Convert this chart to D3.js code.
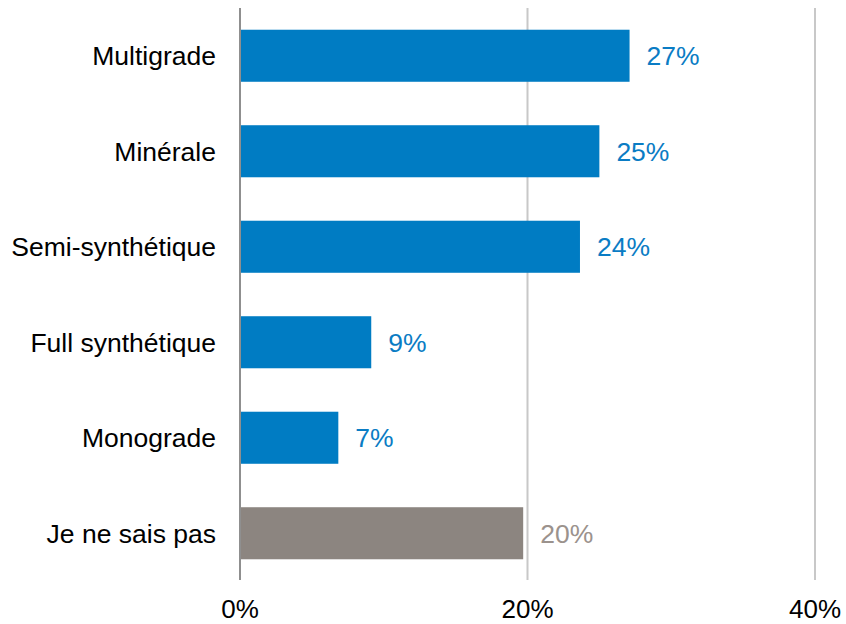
<!DOCTYPE html>
<html><head><meta charset="utf-8">
<script src="https://cdn.jsdelivr.net/npm/d3@7"></script>
<style>body{margin:0;background:#fff;}svg{display:block;font-family:"Liberation Sans",Arial,sans-serif;}</style>
</head><body><svg id="c" width="846" height="624"></svg>
<script>
const categories = ["Multigrade","Minérale","Semi-synthétique","Full synthétique","Monograde","Je ne sais pas"];
const values = [27.1, 25.0, 23.65, 9.13, 6.84, 19.7];
const labels = ["27%","25%","24%","9%","7%","20%"];
const tickValues = [0, 20, 40];
const barColors = ["#007cc3","#007cc3","#007cc3","#007cc3","#007cc3","#8c8580"];
const labelColors = ["#0a7cc4","#0a7cc4","#0a7cc4","#0a7cc4","#0a7cc4","#9b928d"];

const svg = d3.select("#c");
const x = d3.scaleLinear().domain([0,40]).range([240,815]);
const y = d3.scaleBand().domain(categories).range([8,581]).paddingInner(0.455).paddingOuter(0.2275);

svg.selectAll("line.grid").data(tickValues.slice(1)).enter().append("line")
  .attr("x1",d=>x(d)).attr("x2",d=>x(d)).attr("y1",8).attr("y2",580)
  .attr("stroke","#c8c8c8").attr("stroke-width",2);

svg.selectAll("rect.bar").data(values).enter().append("rect")
  .attr("x",x(0)).attr("y",(d,i)=>y(categories[i]))
  .attr("width",d=>x(d)-x(0)).attr("height",y.bandwidth())
  .attr("fill",(d,i)=>barColors[i]);

svg.append("line").attr("x1",x(0)).attr("x2",x(0)).attr("y1",8).attr("y2",580)
  .attr("stroke","#8f8f8f").attr("stroke-width",2);

svg.selectAll("text.val").data(values).enter().append("text")
  .attr("x",d=>x(d)+17).attr("y",(d,i)=>y(categories[i])+y.bandwidth()/2)
  .attr("dy","0.35em").attr("font-size",26.5).attr("fill",(d,i)=>labelColors[i])
  .text((d,i)=>labels[i]);

svg.selectAll("text.cat").data(categories).enter().append("text")
  .attr("x",216).attr("y",d=>y(d)+y.bandwidth()/2).attr("dy","0.35em")
  .attr("text-anchor","end").attr("font-size",26.5).attr("fill","#000").text(d=>d);

svg.selectAll("text.tick").data(tickValues).enter().append("text")
  .attr("x",d=>x(d)).attr("y",618).attr("text-anchor","middle")
  .attr("font-size",26).attr("fill","#000").text(d=>d+"%");
</script></body></html>
